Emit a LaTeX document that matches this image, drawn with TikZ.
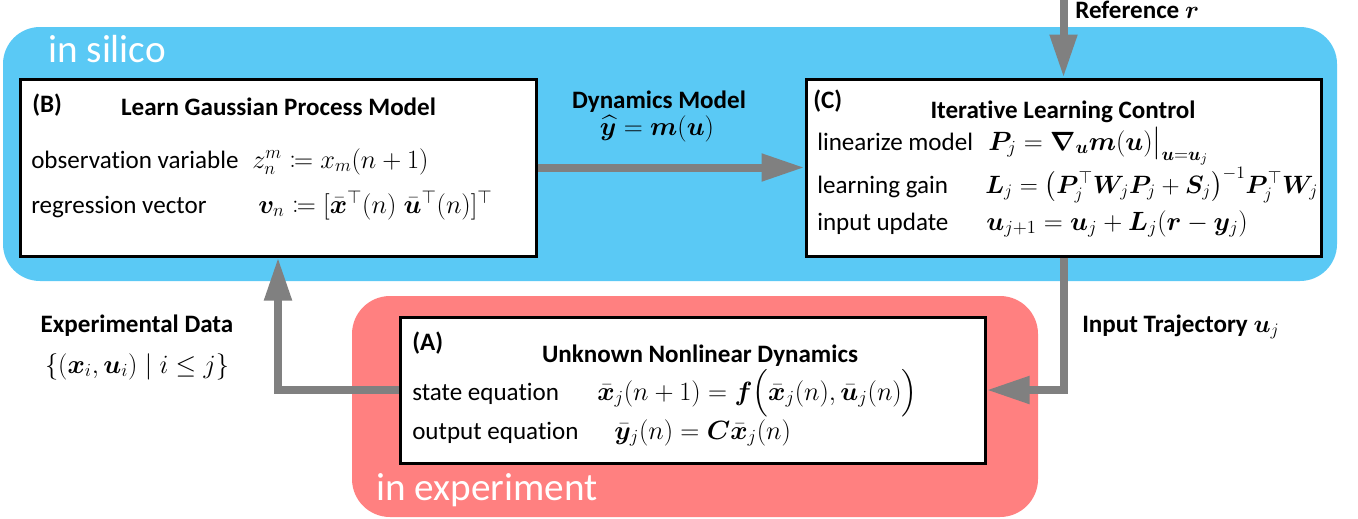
\RequirePackage{fix-cm}
\documentclass[tikz,border=0pt]{standalone}
\usepackage{amsmath,amssymb,mathtools,bm}
\usepackage[no-math]{fontspec}
\setmainfont{Carlito}[Ligatures=NoCommon]
\usetikzlibrary{arrows.meta}
\definecolor{silico}{RGB}{90,201,245}
\definecolor{exper}{RGB}{255,128,128}
\definecolor{conngray}{RGB}{128,128,128}
\tikzset{
  box/.style={draw=black, line width=2.25pt, fill=white, inner sep=0pt},
  lbl/.style={font=\fontsize{18.8}{22}\selectfont, inner sep=0pt, anchor=base west},
  blbl/.style={font=\fontsize{18.8}{22}\selectfont\bfseries, inner sep=0pt, anchor=base west},
  mth/.style={font=\fontsize{19.8}{22}\selectfont, inner sep=0pt, anchor=base west},
  mthc/.style={font=\fontsize{19.8}{22}\selectfont, inner sep=0pt, anchor=base},
  ttl/.style={font=\fontsize{18.8}{22}\selectfont\bfseries, inner sep=0pt, anchor=base},
  region/.style={font=\fontsize{29.4}{34}\selectfont, text=white, inner sep=0pt, anchor=base west},
  conn/.style={draw=conngray, line width=6pt, -{Triangle[length=32.25pt, width=19.5pt]}},
}
\begin{document}
\begin{tikzpicture}[x=0.75pt, y=-0.75pt]
\useasboundingbox (0,0) rectangle (1358,518);
% regions
\fill[silico, rounded corners=27.75pt] (3,27) rectangle (1337,281);
\fill[exper, rounded corners=28.5pt] (352,296) rectangle (1038,517);
\node[region] (silicolbl) at (48,62) {in silico};
\node[region] (explbl) at (376,500) {in experiment};
% boxes
\node[box, minimum width=387pt, minimum height=132.75pt] (B) at (278,167.5) {};
\node[box, minimum width=386.25pt, minimum height=132.75pt] (C) at (1063.5,167.5) {};
\node[box, minimum width=438.75pt, minimum height=109.5pt] (A) at (692.5,390) {};
% box B content
\node[blbl] (Bl) at (32,112) {(B)};
\node[ttl] (Bt) at (278.5,115) {Learn Gaussian Process Model};
\node[lbl] (B1) at (31,168) {observation variable};
\node[mth] (B1m) at (252,168) {$z_n^m \coloneqq x_m(n+1)$};
\node[lbl] (B2) at (31,213) {regression vector};
\node[mth] (B2m) at (258,213) {$\bm{v}_n \coloneqq [\bar{\bm{x}}^{\top}(n)\;\bar{\bm{u}}^{\top}(n)]^{\top}$};
% box C content
\node[blbl] (Cl) at (813,108) {(C)};
\node[ttl] (Ct) at (1063,118) {Iterative Learning Control};
\node[lbl] (C1) at (817,150) {linearize model};
\node[mth] (C1m) at (988,150) {$\bm{P}_j = \bm{\nabla}_{\bm{u}}\bm{m}(\bm{u})\big|_{\bm{u}=\bm{u}_j}$};
\node[lbl] (C2) at (817,193) {learning gain};
\node[mth, font=\fontsize{18.8}{22}\selectfont] (C2m) at (985,193) {$\bm{L}_j = \big(\bm{P}_j^{\top}\bm{W}_j\bm{P}_j + \bm{S}_j\big)^{-1}\bm{P}_j^{\top}\bm{W}_j$};
\node[lbl] (C3) at (817,230) {input update};
\node[mth] (C3m) at (986,230) {$\bm{u}_{j+1} = \bm{u}_j + \bm{L}_j(\bm{r} - \bm{y}_j)$};
% box A content
\node[blbl] (Al) at (412,350) {(A)};
\node[ttl] (At) at (700,362) {Unknown Nonlinear Dynamics};
\node[lbl] (A1) at (412,400) {state equation};
\node[mth] (A1m) at (597,400) {$\bar{\bm{x}}_j(n+1) = \bm{f}\Big(\bar{\bm{x}}_j(n), \bar{\bm{u}}_j(n)\Big)$};
\node[lbl] (A2) at (412,439) {output equation};
\node[mth] (A2m) at (614,439) {$\bar{\bm{y}}_j(n) = \bm{C}\bar{\bm{x}}_j(n)$};
% connector labels
\node[ttl] (dynlbl) at (659,108) {Dynamics Model};
\node[mthc] (dynm) at (657,135) {$\widehat{\bm{y}} = \bm{m}(\bm{u})$};
\node[blbl] (reflbl) at (1075,18) {Reference $\bm{r}$};
\node[blbl] (inlbl) at (1082,332) {Input Trajectory $\bm{u}_j$};
\node[ttl] (explbl2) at (137,332) {Experimental Data};
\node[mthc] (expset) at (137,373) {$\{(\bm{x}_i, \bm{u}_i) \mid i \le j\}$};
% connectors
\coordinate (ref) at (1063.5,0);
\draw[conn] (B.east) -- (C.west);
\draw[conn] (ref) -- (C.north);
\draw[conn] (C.south) |- (A.east);
\draw[conn] (A.west) -| (B.south);
\end{tikzpicture}
\end{document}
